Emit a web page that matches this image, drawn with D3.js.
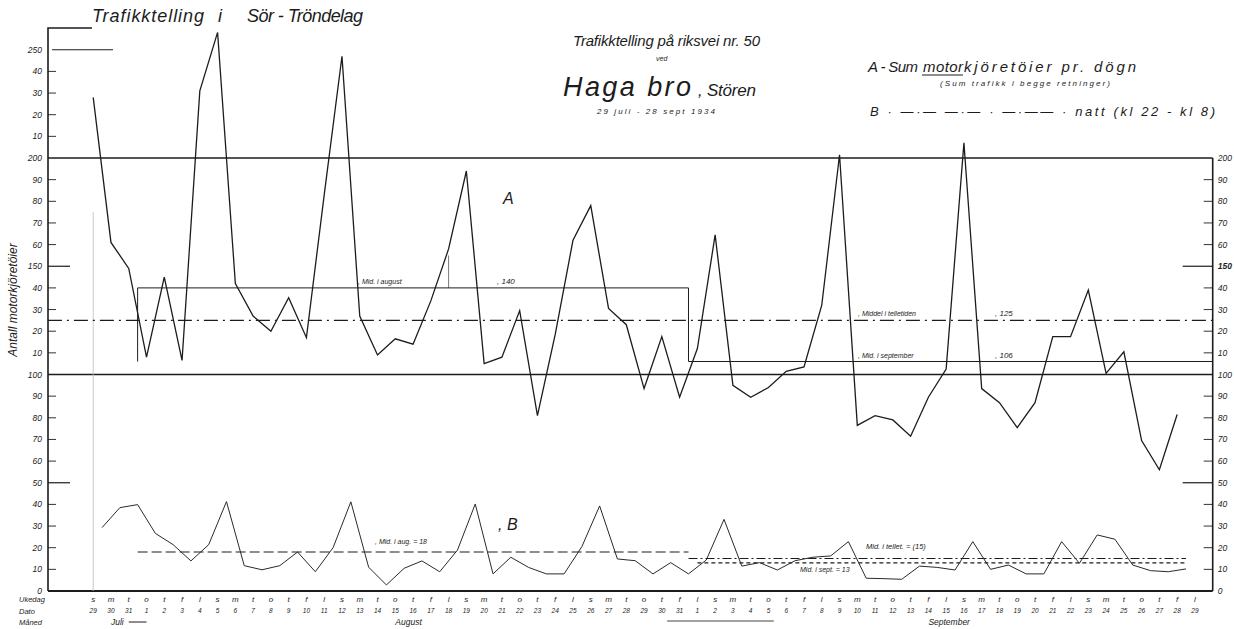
<!DOCTYPE html>
<html>
<head>
<meta charset="utf-8">
<script src="https://cdn.jsdelivr.net/npm/d3@7"></script>
<style>
body { margin: 0; background: #fff; }
svg { display: block; font-family: "Liberation Sans", Arial, sans-serif; font-style: italic; }
</style>
</head>
<body>
<svg id="chart" width="1234" height="629"></svg>
<script>
// weekday letters repeat from sunday 29 july 1934
const weekdays = ['s', 'm', 't', 'o', 't', 'f', 'l'];
const dates = [29, 30, 31,
    1, 2, 3, 4, 5, 6, 7, 8, 9, 10, 11, 12, 13, 14, 15, 16, 17, 18, 19, 20, 21, 22, 23, 24, 25, 26, 27, 28, 29, 30, 31,
    1, 2, 3, 4, 5, 6, 7, 8, 9, 10, 11, 12, 13, 14, 15, 16, 17, 18, 19, 20, 21, 22, 23, 24, 25, 26, 27, 28, 29];
const months = [['Juli', 1], ['August', 17], ['September', 47]];

// A: sum of motor vehicles per day (both directions)
const seriesA = [228, 161, 149, 108, 145, 106.5, 231, 258, 142, 127, 120, 135.5, 117, 183, 247, 127,
    109, 116.5, 114, 134, 158, 194, 105, 108, 129.5, 81, 118.5, 162, 178, 130.5, 123, 93.5, 117.5, 89.5,
    112, 164.5, 95, 89.5, 94, 101.5, 103.5, 132, 201.5, 76.5, 81, 79, 71.5, 89.5, 102.5, 207, 93.5,
    87, 75.5, 87, 117.5, 117.5, 139, 100.5, 110.5, 69.5, 56, 81.5];
// B: night traffic kl 22 - kl 8 (plotted between the days)
const seriesB = [29.3, 38.5, 39.9, 26.6, 21.4, 13.9, 21.4, 41.3, 11.7, 9.8, 11.7, 18,
    8.9, 20, 41.2, 11, 2.8, 10.5, 13.9, 8.9, 18.9, 40.2, 7.9, 15.6, 10.9, 7.9, 7.9, 20.5, 39.3, 14.8,
    14, 7.9, 13.1, 7.9, 14.3, 33.1, 11.5, 13.1, 9.7, 14,
    15.6, 16.2, 22.8, 5.9, 5.7, 5.4, 11.5, 10.9, 9.7, 22.8, 10, 12, 7.9, 7.9, 22.8, 12.8, 25.9, 23.9,
    12, 9.4, 8.9, 10.2];

// mean lines: [label, value text, value, from day, to day]
const meansA = [
    ['Mid. i august', '140', 140, 2.5, 33.5],
    ['Middel i telletiden', '125', 125, -2.55, 63],
    ['Mid. i september', '106', 106, 33.5, 63]
];
const meansB = [
    ['Mid. i aug. = 18', 18, 2.5, 33.5],
    ['Mid. i tellet. = (15)', 15, 33.5, 61.5],
    ['Mid. i sept. = 13', 13, 34, 61.5]
];

const leftTicks = d3.range(0, 251, 10);
const rightTicks = d3.range(0, 201, 10);

const svg = d3.select('#chart');
const ink = '#1c1c1c';

let x = d3.scaleLinear().domain([0, 63]).range([93.2, 1212.7]);
let y = d3.scaleLinear().domain([0, 250]).range([591, 49.75]);
const left = 48, right = x(63);

let tickText = v => (v % 50 === 0 ? String(v) : String(v % 100));

// left axis with the stub under the county title
svg.append('path')
    .attr('d', `M${left},${y(0)}V28H92`)
    .attr('fill', 'none').attr('stroke', ink).attr('stroke-width', 1.6);

svg.append('g').selectAll('line')
    .data(leftTicks.filter(v => v !== 100 && v !== 200 && v > 0))
    .enter().append('line')
    .attr('x1', d => d === 250 ? 52 : left)
    .attr('x2', d => d === 250 ? 113 : (d % 50 === 0 ? 70 : 56))
    .attr('y1', d => y(d)).attr('y2', d => y(d))
    .attr('stroke', ink).attr('stroke-width', d => d % 50 === 0 ? 1.2 : 0.9);

svg.append('g').selectAll('text')
    .data(leftTicks)
    .enter().append('text')
    .attr('x', 42).attr('y', d => y(d) + 3)
    .attr('text-anchor', 'end').attr('font-size', 8.5).attr('fill', ink)
    .text(tickText);

// right axis
svg.append('line')
    .attr('x1', right).attr('x2', right).attr('y1', y(200)).attr('y2', y(0))
    .attr('stroke', ink).attr('stroke-width', 1.6);

svg.append('g').selectAll('line')
    .data(rightTicks.filter(v => v !== 100 && v !== 200 && v > 0))
    .enter().append('line')
    .attr('x1', d => d % 50 === 0 ? right - 30 : right - 9)
    .attr('x2', right)
    .attr('y1', d => y(d)).attr('y2', d => y(d))
    .attr('stroke', ink).attr('stroke-width', d => d % 50 === 0 ? 1.2 : 0.9);

svg.append('g').selectAll('text')
    .data(rightTicks)
    .enter().append('text')
    .attr('x', right + 5).attr('y', d => y(d) + 3)
    .attr('font-size', 8.5).attr('fill', ink)
    .attr('font-weight', d => d === 150 ? 'bold' : 'normal')
    .text(tickText);

// 100 and 200 reference lines and the base line
svg.append('g').selectAll('line')
    .data([0, 100, 200])
    .enter().append('line')
    .attr('x1', left).attr('x2', right)
    .attr('y1', d => y(d)).attr('y2', d => y(d))
    .attr('stroke', ink).attr('stroke-width', d => d === 0 ? 1.8 : 1.5);

// faint construction lines
svg.append('line').attr('x1', x(0)).attr('x2', x(0)).attr('y1', y(175)).attr('y2', y(0))
    .attr('stroke', '#bbb').attr('stroke-width', 0.8);
svg.append('line').attr('x1', x(20)).attr('x2', x(20)).attr('y1', y(155)).attr('y2', y(140))
    .attr('stroke', '#555').attr('stroke-width', 0.8);

// A means
let aug = meansA[0], sep = meansA[2];
svg.append('path')
    .attr('d', `M${x(aug[3])},${y(sep[2])}V${y(aug[2])}H${x(aug[4])}V${y(sep[2])}H${x(sep[4])}`)
    .attr('fill', 'none').attr('stroke', ink).attr('stroke-width', 1);
svg.append('line')
    .attr('x1', x(meansA[1][3])).attr('x2', x(meansA[1][4]))
    .attr('y1', y(meansA[1][2])).attr('y2', y(meansA[1][2]))
    .attr('stroke', ink).attr('stroke-width', 1.4).attr('stroke-dasharray', '14,5,2,5');

let labelPos = [[358, 497], [858, 995], [858, 995]];
meansA.forEach((m, k) => {
    svg.append('text').attr('x', labelPos[k][0]).attr('y', y(m[2]) - 4)
        .attr('font-size', 7).attr('fill', ink).text(', ' + m[0]);
    svg.append('text').attr('x', labelPos[k][1]).attr('y', y(m[2]) - 4)
        .attr('font-size', 8).attr('fill', ink).text(', ' + m[1]);
});

// B means
let dashB = ['10,4', '9,3,2,3', '4,3'];
meansB.forEach((m, k) => {
    svg.append('line')
        .attr('x1', x(m[2])).attr('x2', x(m[3]))
        .attr('y1', y(m[1])).attr('y2', y(m[1]))
        .attr('stroke', ink).attr('stroke-width', 1.1).attr('stroke-dasharray', dashB[k]);
});
svg.append('text').attr('x', 375).attr('y', y(meansB[0][1]) - 8)
    .attr('font-size', 7).attr('fill', ink).text(', ' + meansB[0][0]);
svg.append('text').attr('x', 866).attr('y', y(meansB[1][1]) - 10)
    .attr('font-size', 7.5).attr('fill', ink).text(meansB[1][0]);
svg.append('text').attr('x', 800).attr('y', y(meansB[2][1]) + 9)
    .attr('font-size', 7).attr('fill', ink).text(meansB[2][0]);

// the two series
let lineA = d3.line().x((d, i) => x(i)).y(d => y(d));
let lineB = d3.line().x((d, i) => x(i + 0.5)).y(d => y(d));

svg.append('path').datum(seriesA)
    .attr('d', lineA).attr('fill', 'none')
    .attr('stroke', ink).attr('stroke-width', 1.3).attr('stroke-linejoin', 'miter');
svg.append('path').datum(seriesB)
    .attr('d', lineB).attr('fill', 'none')
    .attr('stroke', '#2a2a2a').attr('stroke-width', 1);

svg.append('text').attr('x', 503).attr('y', 204).attr('font-size', 16).attr('fill', ink).text('A');
svg.append('text').attr('x', 498).attr('y', 530).attr('font-size', 16).attr('fill', ink).text(', B');

// bottom rows: weekday, date, month
svg.append('g').selectAll('text')
    .data(dates)
    .enter().append('text')
    .attr('x', (d, i) => x(i)).attr('y', 602)
    .attr('text-anchor', 'middle').attr('font-size', 8).attr('fill', ink)
    .text((d, i) => weekdays[i % 7]);
svg.append('g').selectAll('text')
    .data(dates)
    .enter().append('text')
    .attr('x', (d, i) => x(i)).attr('y', 613)
    .attr('text-anchor', 'middle').attr('font-size', 6.5).attr('fill', ink)
    .text(d => d);
svg.append('g').selectAll('text')
    .data(months)
    .enter().append('text')
    .attr('x', d => x(d[1])).attr('y', 625)
    .attr('font-size', 8.5).attr('fill', ink)
    .text(d => d[0]);
svg.append('line').attr('x1', x(2)).attr('x2', x(3)).attr('y1', 622).attr('y2', 622)
    .attr('stroke', ink).attr('stroke-width', 1);
svg.append('line').attr('x1', x(32.3)).attr('x2', x(38.3)).attr('y1', 621).attr('y2', 621)
    .attr('stroke', '#444').attr('stroke-width', 1.2);

svg.append('g').selectAll('text')
    .data(['Ukedag', 'Dato', 'Måned'])
    .enter().append('text')
    .attr('x', 19).attr('y', (d, i) => 602 + i * 11.5)
    .attr('font-size', 7.5).attr('fill', ink)
    .text(d => d);

// y title
svg.append('text')
    .attr('transform', 'translate(17,300) rotate(-90)')
    .attr('text-anchor', 'middle').attr('font-size', 12).attr('fill', ink)
    .text('Antall motorkjöretöier');

// headings: [text, x, y, size, width]
let head = [
    ['Trafikktelling', 92, 22, 18, 112],
    ['i', 218, 22, 18, null],
    ['Sör - Tröndelag', 247, 22, 18, 116],
    ['Trafikktelling på riksvei nr. 50', 573, 46, 15, 187],
    ['ved', 656, 61, 7, null],
    ['Haga bro', 563, 96, 27, 128],
    [', Stören', 698, 96, 17, 58],
    ['29 juli  -  28 sept  1934', 597, 114, 8, 118],
    ['A - Sum', 868, 72, 15, 50],
    ['motor', 923, 72, 15, 40],
    ['kjöretöier pr. dögn', 964, 72, 15, 172],
    ['(Sum trafikk i begge retninger)', 940, 86, 8, 170],
    ['B  ·  —·—   —·—  ·  —·——  ·  natt (kl 22 - kl 8)', 870, 116, 13, 345]
];
head.forEach(h => {
    let t = svg.append('text').attr('x', h[1]).attr('y', h[2])
        .attr('font-size', h[3]).attr('fill', ink).text(h[0]);
    if (h[4]) t.attr('textLength', h[4]).attr('lengthAdjust', 'spacing');
});
// underline "motor"
svg.append('line').attr('x1', 922).attr('x2', 963).attr('y1', 75).attr('y2', 75)
    .attr('stroke', ink).attr('stroke-width', 1);
</script>
</body>
</html>
